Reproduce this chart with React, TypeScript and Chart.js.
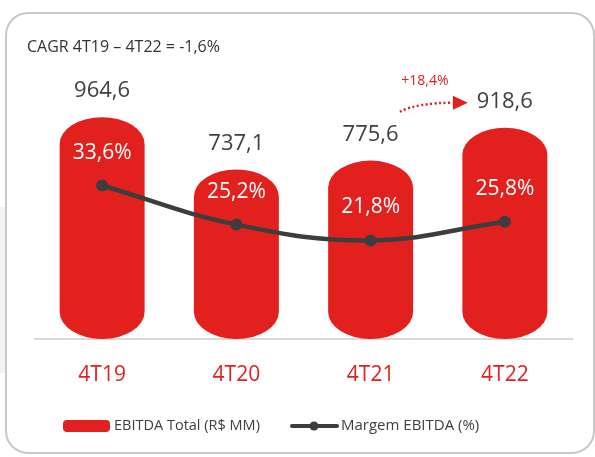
import React, { useEffect, useRef } from "react";
import { Chart, registerables } from "chart.js";

Chart.register(...registerables);

const categories = ["4T19", "4T20", "4T21", "4T22"];
const ebitdaValues = [964.6, 737.1, 775.6, 918.6];
const ebitdaLabels = ["964,6", "737,1", "775,6", "918,6"];
const marginValues = [33.6, 25.2, 21.8, 25.8];
const marginLabels = ["33,6%", "25,2%", "21,8%", "25,8%"];
const cagrText = "CAGR 4T19 – 4T22 = -1,6%";
const growthText = "+18,4%";
const legendLabels = ["EBITDA Total (R$ MM)", "Margem EBITDA (%)"];

const RED = "#e2211f";
const DARK = "#3d3d3d";
const TEXT = "#404040";
const FONT = "'Open Sans', sans-serif";

const decorPlugin = {
  id: "decor",
  beforeDraw(chart: any) {
    const ctx = chart.ctx;
    ctx.save();
    ctx.fillStyle = "#f3f3f3";
    ctx.fillRect(0, 207, 5, 166);
    ctx.strokeStyle = "#c8c8c8";
    ctx.lineWidth = 2;
    ctx.beginPath();
    ctx.roundRect(6, 13, 588, 440, 22);
    ctx.stroke();
    ctx.fillStyle = "#333333";
    ctx.font = `16px ${FONT}`;
    ctx.textBaseline = "middle";
    ctx.textAlign = "left";
    ctx.fillText(cagrText, 27, 47);
    ctx.restore();
  },
  beforeDatasetsDraw(chart: any) {
    const ctx = chart.ctx;
    const meta = chart.getDatasetMeta(0);
    ctx.save();
    ctx.fillStyle = RED;
    meta.data.forEach((el: any) => {
      const { x, y, base, width } = el.getProps(["x", "y", "base", "width"], true);
      const rx = width / 2;
      const ry = 27;
      ctx.beginPath();
      ctx.moveTo(x - rx, y + ry);
      ctx.ellipse(x, y + ry, rx, ry, 0, Math.PI, 0, false);
      ctx.lineTo(x + rx, base - ry);
      ctx.ellipse(x, base - ry, rx, ry, 0, 0, Math.PI, false);
      ctx.closePath();
      ctx.fill();
    });
    ctx.restore();
  },
  afterDatasetsDraw(chart: any) {
    const ctx = chart.ctx;
    const barMeta = chart.getDatasetMeta(0);
    const lineMeta = chart.getDatasetMeta(1);
    ctx.save();
    ctx.textAlign = "center";
    ctx.textBaseline = "middle";
    ctx.font = `22px ${FONT}`;
    ctx.fillStyle = TEXT;
    barMeta.data.forEach((el: any, i: number) => {
      ctx.fillText(ebitdaLabels[i], el.x, el.y - 26);
    });
    ctx.font = `21px ${FONT}`;
    ctx.fillStyle = "#ffffff";
    lineMeta.data.forEach((el: any, i: number) => {
      ctx.fillText(marginLabels[i], el.x, el.y - 33);
    });

    // growth annotation between last two periods
    const last = barMeta.data[barMeta.data.length - 1];
    const tipX = last.x - 37;
    const ay = last.y - 25;
    ctx.strokeStyle = RED;
    ctx.lineWidth = 2.5;
    ctx.setLineDash([2, 2.5]);
    ctx.beginPath();
    ctx.moveTo(tipX - 68, ay + 9);
    ctx.quadraticCurveTo(tipX - 50, ay, tipX - 15, ay);
    ctx.stroke();
    ctx.setLineDash([]);
    ctx.fillStyle = RED;
    ctx.beginPath();
    ctx.moveTo(tipX - 15, ay - 7);
    ctx.lineTo(tipX - 15, ay + 7);
    ctx.lineTo(tipX, ay);
    ctx.closePath();
    ctx.fill();
    ctx.font = `14px ${FONT}`;
    ctx.fillText(growthText, tipX - 43, ay - 22);
    ctx.restore();
  },
  afterDraw(chart: any) {
    const ctx = chart.ctx;
    ctx.save();
    ctx.fillStyle = RED;
    ctx.beginPath();
    ctx.roundRect(63, 420, 47, 12, 4);
    ctx.fill();
    ctx.font = `14.5px ${FONT}`;
    ctx.fillStyle = TEXT;
    ctx.textBaseline = "middle";
    ctx.textAlign = "left";
    ctx.fillText(legendLabels[0], 114, 426);
    ctx.strokeStyle = DARK;
    ctx.lineWidth = 4;
    ctx.lineCap = "round";
    ctx.beginPath();
    ctx.moveTo(292, 426);
    ctx.lineTo(337, 426);
    ctx.stroke();
    ctx.fillStyle = DARK;
    ctx.beginPath();
    ctx.arc(314, 426, 4.5, 0, Math.PI * 2);
    ctx.fill();
    ctx.fillStyle = TEXT;
    ctx.font = `15px ${FONT}`;
    ctx.fillText(legendLabels[1], 341, 426);
    ctx.restore();
  },
};

export default function App() {
  const ref = useRef<HTMLCanvasElement | null>(null);
  useEffect(() => {
    document.body.style.margin = "0";
    const chart = new Chart(ref.current as HTMLCanvasElement, {
      type: "bar",
      data: {
        labels: categories,
        datasets: [
          {
            type: "bar",
            label: legendLabels[0],
            data: ebitdaValues,
            backgroundColor: "rgba(0,0,0,0)",
            borderWidth: 0,
            yAxisID: "y",
            categoryPercentage: 1,
            barPercentage: 0.633,
            order: 2,
          },
          {
            type: "line",
            label: legendLabels[1],
            data: marginValues,
            borderColor: DARK,
            backgroundColor: DARK,
            borderWidth: 4.5,
            tension: 0.4,
            pointRadius: 6,
            pointBackgroundColor: DARK,
            pointBorderWidth: 0,
            yAxisID: "y2",
            order: 1,
          },
        ],
      } as any,
      options: {
        animation: false,
        responsive: true,
        maintainAspectRatio: false,
        layout: { padding: { left: 35, right: 23, top: 86, bottom: 48 } },
        plugins: { legend: { display: false }, tooltip: { enabled: false }, title: { display: false } },
        scales: {
          x: {
            grid: { display: false, drawTicks: false },
            border: { display: true, color: "#d9d9d9", width: 2 },
            ticks: { color: RED, font: { family: FONT, size: 21 }, padding: 23 },
            afterFit: (scale: any) => {
              scale.height = 70;
            },
          },
          y: { display: false, min: 0, max: 1100 },
          y2: { display: false, min: 0.6, max: 55, position: "right" },
        },
      } as any,
      plugins: [decorPlugin],
    });
    return () => chart.destroy();
  }, []);
  return (
    <div style={{ position: "absolute", left: 0, top: 0, width: 595, height: 457, background: "#fff" }}>
      <canvas ref={ref} />
    </div>
  );
}
